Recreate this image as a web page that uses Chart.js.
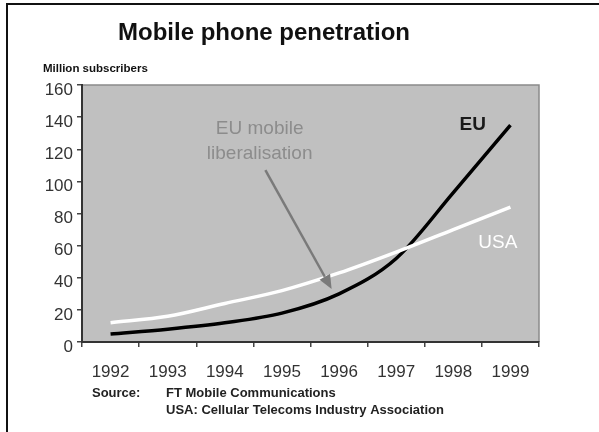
<!DOCTYPE html>
<html>
<head>
<meta charset="utf-8">
<script src="https://cdn.jsdelivr.net/npm/chart.js@4/dist/chart.umd.min.js"></script>
<style>
  html, body { margin: 0; padding: 0; background: #fff; }
  #wrap { position: relative; width: 599px; height: 432px; }
</style>
</head>
<body>
<div id="wrap"><canvas id="c" width="599" height="432"></canvas></div>
<script>
const years = ['1992', '1993', '1994', '1995', '1996', '1997', '1998', '1999'];
const euSubscribers = [5, 8, 12, 18, 30, 52, 93, 135];
const usaSubscribers = [12, 16, 24, 32, 43, 56, 70, 84];
const yTicks = [0, 20, 40, 60, 80, 100, 120, 140, 160];

const FONT = '"Liberation Sans", Arial, sans-serif';

const decor = {
  id: 'decor',
  beforeDraw(chart) {
    const { ctx, chartArea: a } = chart;
    ctx.save();
    ctx.fillStyle = '#ffffff';
    ctx.fillRect(0, 0, chart.width, chart.height);
    ctx.fillStyle = '#c0c0c0';
    ctx.fillRect(a.left, a.top, a.right - a.left, a.bottom - a.top);
    ctx.strokeStyle = '#8a8a8a';
    ctx.lineWidth = 1.5;
    ctx.beginPath();
    ctx.moveTo(a.left, a.top);
    ctx.lineTo(a.right, a.top);
    ctx.lineTo(a.right, a.bottom);
    ctx.stroke();
    // outer frame (top + left)
    ctx.fillStyle = '#111';
    ctx.fillRect(6, 3, 593, 2);
    ctx.fillRect(6, 3, 2, 429);
    ctx.restore();
  },
  afterDatasetsDraw(chart) {
    const { ctx } = chart;
    const x = chart.scales.x, y = chart.scales.y;
    ctx.save();
    // arrow
    const x0 = x.getPixelForValue(2.71), y0 = y.getPixelForValue(107);
    const x1 = x.getPixelForValue(3.87), y1 = y.getPixelForValue(33);
    const ang = Math.atan2(y1 - y0, x1 - x0);
    const hl = 14, hw = 6;
    const bx = x1 - hl * Math.cos(ang), by = y1 - hl * Math.sin(ang);
    ctx.strokeStyle = '#7a7a7a';
    ctx.fillStyle = '#7a7a7a';
    ctx.lineWidth = 2.5;
    ctx.beginPath();
    ctx.moveTo(x0, y0);
    ctx.lineTo(bx, by);
    ctx.stroke();
    ctx.beginPath();
    ctx.moveTo(x1, y1);
    ctx.lineTo(bx + hw * Math.sin(ang), by - hw * Math.cos(ang));
    ctx.lineTo(bx - hw * Math.sin(ang), by + hw * Math.cos(ang));
    ctx.closePath();
    ctx.fill();

    ctx.textAlign = 'center';
    ctx.textBaseline = 'middle';
    ctx.fillStyle = '#8c8c8c';
    ctx.font = '19px ' + FONT;
    ctx.fillText('EU mobile', x.getPixelForValue(2.61), y.getPixelForValue(132.5));
    ctx.fillText('liberalisation', x.getPixelForValue(2.61), y.getPixelForValue(117.5));

    ctx.fillStyle = '#1a1a1a';
    ctx.font = 'bold 19px ' + FONT;
    ctx.fillText('EU', x.getPixelForValue(6.34), y.getPixelForValue(135));
    ctx.fillStyle = '#ffffff';
    ctx.font = '19px ' + FONT;
    ctx.fillText('USA', x.getPixelForValue(6.78), y.getPixelForValue(61.5));
    ctx.restore();
  },
  afterDraw(chart) {
    const { ctx } = chart;
    ctx.save();
    ctx.fillStyle = '#111';
    ctx.textBaseline = 'middle';
    ctx.textAlign = 'center';
    ctx.font = 'bold 24px ' + FONT;
    ctx.fillText('Mobile phone penetration', 264, 33);
    ctx.textAlign = 'left';
    ctx.font = 'bold 11.5px ' + FONT;
    ctx.fillText('Million subscribers', 43, 69);
    ctx.font = 'bold 13px ' + FONT;
    ctx.fillStyle = '#222';
    ctx.fillText('Source:', 92, 393);
    ctx.fillText('FT Mobile Communications', 166, 393);
    ctx.fillText('USA: Cellular Telecoms Industry Association', 166, 410);
    ctx.restore();
  }
};

new Chart(document.getElementById('c'), {
  type: 'line',
  data: {
    labels: years,
    datasets: [
      { label: 'USA', data: usaSubscribers, borderColor: '#ffffff', borderWidth: 3.5,
        pointRadius: 0, tension: 0.35, cubicInterpolationMode: 'monotone', fill: false },
      { label: 'EU', data: euSubscribers, borderColor: '#000000', borderWidth: 3.5,
        pointRadius: 0, tension: 0.35, cubicInterpolationMode: 'monotone', fill: false }
    ]
  },
  options: {
    responsive: false,
    animation: false,
    devicePixelRatio: 1,
    layout: { padding: { left: 0, top: 85, right: 60, bottom: 0 } },
    plugins: { legend: { display: false }, title: { display: false }, tooltip: { enabled: false } },
    scales: {
      x: {
        offset: true,
        grid: { offset: true, drawOnChartArea: false, drawTicks: true, tickLength: 5, color: '#444', lineWidth: 1.5 },
        border: { display: true, color: '#333', width: 2 },
        ticks: { color: '#333', font: { family: FONT, size: 17 }, padding: 15, maxRotation: 0, autoSkip: false },
        afterFit(s) { s.height = 90; }
      },
      y: {
        min: 0, max: 160,
        afterBuildTicks(s) { s.ticks = yTicks.map(v => ({ value: v })); },
        grid: { drawOnChartArea: false, drawTicks: true, tickLength: 5, color: '#444', lineWidth: 1.5 },
        border: { display: true, color: '#333', width: 2 },
        ticks: { color: '#333', font: { family: FONT, size: 17 }, padding: 4, labelOffset: 5 },
        afterFit(s) { s.width = 82; }
      }
    }
  },
  plugins: [decor]
});
</script>
</body>
</html>
